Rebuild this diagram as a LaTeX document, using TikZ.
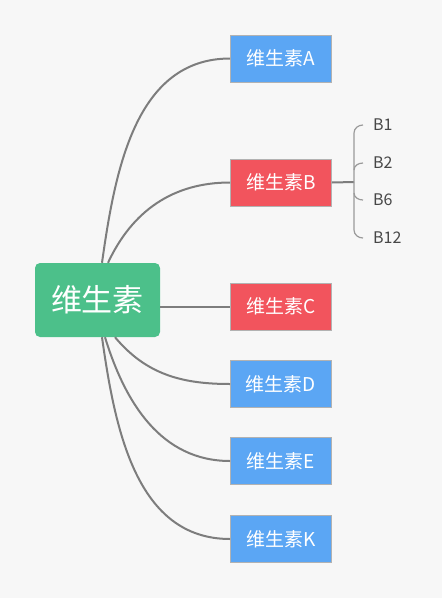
\documentclass[tikz,border=0pt]{standalone}
\usepackage{fontspec}
\setmainfont{Noto Sans CJK SC}
\usetikzlibrary{positioning}
\definecolor{bgcol}{HTML}{F7F7F7}
\definecolor{rootcol}{HTML}{4CC08A}
\definecolor{bluecol}{HTML}{5BA6F4}
\definecolor{redcol}{HTML}{F2545D}
\definecolor{linecol}{HTML}{7D7D7D}
\definecolor{bracecol}{HTML}{9A9A9A}

\begin{document}
\begin{tikzpicture}[x=1pt, y=-1pt, on grid,
    root/.style={fill=rootcol, rounded corners=5pt, minimum width=125pt, minimum height=74pt,
        text=white, font=\fontsize{31}{33}\selectfont},
    vit/.style={draw=black!30, line width=0.8pt, minimum width=101pt, minimum height=47pt,
        text=white, font=\fontsize{19}{21}\selectfont},
    sub/.style={anchor=west, inner sep=0pt, text=black!72, font=\fontsize{16}{18}\selectfont},
    link/.style={draw=linecol, line width=2pt},
    brace/.style={draw=bracecol, line width=1.2pt}]
    \fill[bgcol] (0,0) rectangle (442,598);

    \node[root] (vitamin) at (97.5,300) {维生素};
    \node[vit, fill=redcol] (vitC) at (281,306.5) {维生素C};
    \node[vit, fill=redcol, above=124pt of vitC] (vitB) {维生素B};
    \node[vit, fill=bluecol, above=124pt of vitB] (vitA) {维生素A};
    \node[vit, fill=bluecol, below=77.5pt of vitC] (vitD) {维生素D};
    \node[vit, fill=bluecol, below=77pt of vitD] (vitE) {维生素E};
    \node[vit, fill=bluecol, below=78pt of vitE] (vitK) {维生素K};

    % B group
    \node[sub] (b1) at (373,125) {B1};
    \node[sub] (b2) at (373,163) {B2};
    \node[sub] (b6) at (373,200) {B6};
    \node[sub] (b12) at (373,238) {B12};
    \coordinate (br) at (354,182);

    \path[link]
        ([xshift=4.5pt]vitamin.north) edge[out=82, in=180] (vitA.west)
        ([xshift=10.5pt]vitamin.north) edge[out=65, in=180] (vitB.west)
        (vitamin.east |- vitC.west) edge (vitC.west)
        ([xshift=17.5pt]vitamin.south) edge[out=-50, in=180] (vitD.west)
        ([xshift=7.5pt]vitamin.south) edge[out=-73, in=180] (vitE.west)
        ([xshift=4.5pt]vitamin.south) edge[out=-82, in=180] (vitK.west)
        (vitB.east) edge (br);

    \draw[brace] ([xshift=-10pt]b1.west) to[out=180, in=90] ([yshift=-8pt]br |- b1.west)
        -- ([yshift=8pt]br |- b12.west) to[out=-90, in=180] ([xshift=-10pt]b12.west);
    \draw[brace] ([xshift=-10pt]b2.west) to[out=180, in=90] ([yshift=-7pt]br |- b2.west);
    \draw[brace] ([xshift=-10pt]b6.west) to[out=180, in=-90] ([yshift=7pt]br |- b6.west);
\end{tikzpicture}
\end{document}
